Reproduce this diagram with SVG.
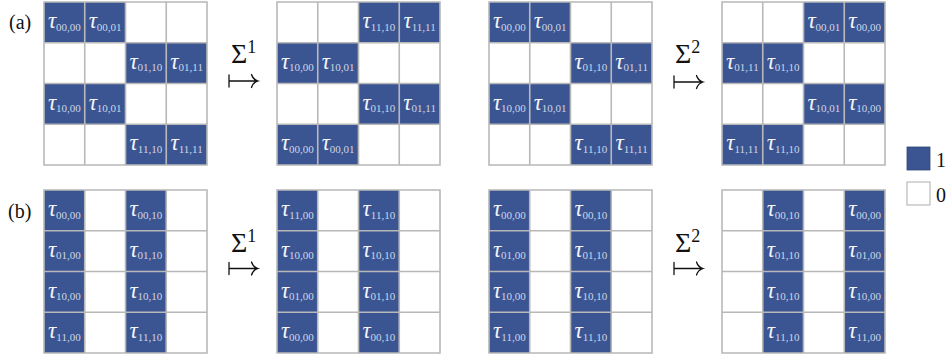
<svg xmlns="http://www.w3.org/2000/svg" width="952" height="358" viewBox="0 0 952 358" font-family="Liberation Serif">
<style>
.bg{fill:#ffffff}
.b{fill:#3b5593}
.g{fill:none;stroke:#b8b8b8;stroke-width:1.6}
.l{text-anchor:middle}
.t{font-style:italic;font-size:23px;fill:#f3f4f9}
.s{font-size:11px;fill:#d0d5e6}
.m{fill:#111}
.sig{font-size:28px}
.sup{font-size:18px}
.arr{fill:none;stroke:#111;stroke-width:1.3;stroke-linecap:round}
.lab{font-size:20px;fill:#111}
</style>
<defs>
<path id="grid" class="g" d="M0 0H163V163H0Z M40.75 0V163 M81.5 0V163 M122.25 0V163 M0 40.75H163 M0 81.5H163 M0 122.25H163"/>
<rect id="bgr" class="bg" x="0" y="0" width="163" height="163"/>
<g id="ga">
<rect class="b" x="0" y="0" width="40.75" height="40.75"/><rect class="b" x="40.75" y="0" width="40.75" height="40.75"/>
<rect class="b" x="81.5" y="40.75" width="40.75" height="40.75"/><rect class="b" x="122.25" y="40.75" width="40.75" height="40.75"/>
<rect class="b" x="0" y="81.5" width="40.75" height="40.75"/><rect class="b" x="40.75" y="81.5" width="40.75" height="40.75"/>
<rect class="b" x="81.5" y="122.25" width="40.75" height="40.75"/><rect class="b" x="122.25" y="122.25" width="40.75" height="40.75"/>
</g>
<g id="gb">
<rect class="b" x="81.5" y="0" width="40.75" height="40.75"/><rect class="b" x="122.25" y="0" width="40.75" height="40.75"/>
<rect class="b" x="0" y="40.75" width="40.75" height="40.75"/><rect class="b" x="40.75" y="40.75" width="40.75" height="40.75"/>
<rect class="b" x="81.5" y="81.5" width="40.75" height="40.75"/><rect class="b" x="122.25" y="81.5" width="40.75" height="40.75"/>
<rect class="b" x="0" y="122.25" width="40.75" height="40.75"/><rect class="b" x="40.75" y="122.25" width="40.75" height="40.75"/>
</g>
<path id="mt" class="arr" d="M0 -6V6 M0 0H28 M22.5 -6.5Q24 -1.5 29 0Q24 1.5 22.5 6.5"/>
</defs>

<text class="lab" x="9" y="29" font-family="Liberation Serif">(a)</text>
<text class="lab" x="8" y="218" font-family="Liberation Serif">(b)</text>

<g id="grid-a1" transform="translate(44,2)" font-family="Liberation Serif">
<use href="#bgr"/><use href="#ga"/>
<text class="l" x="20.375" y="26"><tspan class="t">τ</tspan><tspan class="s" dy="2.5">00,00</tspan></text>
<text class="l" x="61.125" y="26"><tspan class="t">τ</tspan><tspan class="s" dy="2.5">00,01</tspan></text>
<text class="l" x="101.875" y="66.75"><tspan class="t">τ</tspan><tspan class="s" dy="2.5">01,10</tspan></text>
<text class="l" x="142.625" y="66.75"><tspan class="t">τ</tspan><tspan class="s" dy="2.5">01,11</tspan></text>
<text class="l" x="20.375" y="107.5"><tspan class="t">τ</tspan><tspan class="s" dy="2.5">10,00</tspan></text>
<text class="l" x="61.125" y="107.5"><tspan class="t">τ</tspan><tspan class="s" dy="2.5">10,01</tspan></text>
<text class="l" x="101.875" y="148.25"><tspan class="t">τ</tspan><tspan class="s" dy="2.5">11,10</tspan></text>
<text class="l" x="142.625" y="148.25"><tspan class="t">τ</tspan><tspan class="s" dy="2.5">11,11</tspan></text>
<use href="#grid"/>
</g>

<g id="grid-a2" transform="translate(277,2)" font-family="Liberation Serif">
<use href="#bgr"/><use href="#gb"/>
<text class="l" x="101.875" y="26"><tspan class="t">τ</tspan><tspan class="s" dy="2.5">11,10</tspan></text>
<text class="l" x="142.625" y="26"><tspan class="t">τ</tspan><tspan class="s" dy="2.5">11,11</tspan></text>
<text class="l" x="20.375" y="66.75"><tspan class="t">τ</tspan><tspan class="s" dy="2.5">10,00</tspan></text>
<text class="l" x="61.125" y="66.75"><tspan class="t">τ</tspan><tspan class="s" dy="2.5">10,01</tspan></text>
<text class="l" x="101.875" y="107.5"><tspan class="t">τ</tspan><tspan class="s" dy="2.5">01,10</tspan></text>
<text class="l" x="142.625" y="107.5"><tspan class="t">τ</tspan><tspan class="s" dy="2.5">01,11</tspan></text>
<text class="l" x="20.375" y="148.25"><tspan class="t">τ</tspan><tspan class="s" dy="2.5">00,00</tspan></text>
<text class="l" x="61.125" y="148.25"><tspan class="t">τ</tspan><tspan class="s" dy="2.5">00,01</tspan></text>
<use href="#grid"/>
</g>

<g id="grid-a3" transform="translate(489,2)" font-family="Liberation Serif">
<use href="#bgr"/><use href="#ga"/>
<text class="l" x="20.375" y="26"><tspan class="t">τ</tspan><tspan class="s" dy="2.5">00,00</tspan></text>
<text class="l" x="61.125" y="26"><tspan class="t">τ</tspan><tspan class="s" dy="2.5">00,01</tspan></text>
<text class="l" x="101.875" y="66.75"><tspan class="t">τ</tspan><tspan class="s" dy="2.5">01,10</tspan></text>
<text class="l" x="142.625" y="66.75"><tspan class="t">τ</tspan><tspan class="s" dy="2.5">01,11</tspan></text>
<text class="l" x="20.375" y="107.5"><tspan class="t">τ</tspan><tspan class="s" dy="2.5">10,00</tspan></text>
<text class="l" x="61.125" y="107.5"><tspan class="t">τ</tspan><tspan class="s" dy="2.5">10,01</tspan></text>
<text class="l" x="101.875" y="148.25"><tspan class="t">τ</tspan><tspan class="s" dy="2.5">11,10</tspan></text>
<text class="l" x="142.625" y="148.25"><tspan class="t">τ</tspan><tspan class="s" dy="2.5">11,11</tspan></text>
<use href="#grid"/>
</g>

<g id="grid-a4" transform="translate(722,2)" font-family="Liberation Serif">
<use href="#bgr"/><use href="#gb"/>
<text class="l" x="101.875" y="26"><tspan class="t">τ</tspan><tspan class="s" dy="2.5">00,01</tspan></text>
<text class="l" x="142.625" y="26"><tspan class="t">τ</tspan><tspan class="s" dy="2.5">00,00</tspan></text>
<text class="l" x="20.375" y="66.75"><tspan class="t">τ</tspan><tspan class="s" dy="2.5">01,11</tspan></text>
<text class="l" x="61.125" y="66.75"><tspan class="t">τ</tspan><tspan class="s" dy="2.5">01,10</tspan></text>
<text class="l" x="101.875" y="107.5"><tspan class="t">τ</tspan><tspan class="s" dy="2.5">10,01</tspan></text>
<text class="l" x="142.625" y="107.5"><tspan class="t">τ</tspan><tspan class="s" dy="2.5">10,00</tspan></text>
<text class="l" x="20.375" y="148.25"><tspan class="t">τ</tspan><tspan class="s" dy="2.5">11,11</tspan></text>
<text class="l" x="61.125" y="148.25"><tspan class="t">τ</tspan><tspan class="s" dy="2.5">11,10</tspan></text>
<use href="#grid"/>
</g>

<g id="grid-b1" transform="translate(44,190)" font-family="Liberation Serif">
<use href="#bgr"/>
<rect class="b" x="0" y="0" width="40.75" height="163"/><rect class="b" x="81.5" y="0" width="40.75" height="163"/>
<text class="l" x="20.375" y="26"><tspan class="t">τ</tspan><tspan class="s" dy="2.5">00,00</tspan></text>
<text class="l" x="20.375" y="66.75"><tspan class="t">τ</tspan><tspan class="s" dy="2.5">01,00</tspan></text>
<text class="l" x="20.375" y="107.5"><tspan class="t">τ</tspan><tspan class="s" dy="2.5">10,00</tspan></text>
<text class="l" x="20.375" y="148.25"><tspan class="t">τ</tspan><tspan class="s" dy="2.5">11,00</tspan></text>
<text class="l" x="101.875" y="26"><tspan class="t">τ</tspan><tspan class="s" dy="2.5">00,10</tspan></text>
<text class="l" x="101.875" y="66.75"><tspan class="t">τ</tspan><tspan class="s" dy="2.5">01,10</tspan></text>
<text class="l" x="101.875" y="107.5"><tspan class="t">τ</tspan><tspan class="s" dy="2.5">10,10</tspan></text>
<text class="l" x="101.875" y="148.25"><tspan class="t">τ</tspan><tspan class="s" dy="2.5">11,10</tspan></text>
<use href="#grid"/>
</g>

<g id="grid-b2" transform="translate(277,190)" font-family="Liberation Serif">
<use href="#bgr"/>
<rect class="b" x="0" y="0" width="40.75" height="163"/><rect class="b" x="81.5" y="0" width="40.75" height="163"/>
<text class="l" x="20.375" y="26"><tspan class="t">τ</tspan><tspan class="s" dy="2.5">11,00</tspan></text>
<text class="l" x="20.375" y="66.75"><tspan class="t">τ</tspan><tspan class="s" dy="2.5">10,00</tspan></text>
<text class="l" x="20.375" y="107.5"><tspan class="t">τ</tspan><tspan class="s" dy="2.5">01,00</tspan></text>
<text class="l" x="20.375" y="148.25"><tspan class="t">τ</tspan><tspan class="s" dy="2.5">00,00</tspan></text>
<text class="l" x="101.875" y="26"><tspan class="t">τ</tspan><tspan class="s" dy="2.5">11,10</tspan></text>
<text class="l" x="101.875" y="66.75"><tspan class="t">τ</tspan><tspan class="s" dy="2.5">10,10</tspan></text>
<text class="l" x="101.875" y="107.5"><tspan class="t">τ</tspan><tspan class="s" dy="2.5">01,10</tspan></text>
<text class="l" x="101.875" y="148.25"><tspan class="t">τ</tspan><tspan class="s" dy="2.5">00,10</tspan></text>
<use href="#grid"/>
</g>

<g id="grid-b3" transform="translate(489,190)" font-family="Liberation Serif">
<use href="#bgr"/>
<rect class="b" x="0" y="0" width="40.75" height="163"/><rect class="b" x="81.5" y="0" width="40.75" height="163"/>
<text class="l" x="20.375" y="26"><tspan class="t">τ</tspan><tspan class="s" dy="2.5">00,00</tspan></text>
<text class="l" x="20.375" y="66.75"><tspan class="t">τ</tspan><tspan class="s" dy="2.5">01,00</tspan></text>
<text class="l" x="20.375" y="107.5"><tspan class="t">τ</tspan><tspan class="s" dy="2.5">10,00</tspan></text>
<text class="l" x="20.375" y="148.25"><tspan class="t">τ</tspan><tspan class="s" dy="2.5">11,00</tspan></text>
<text class="l" x="101.875" y="26"><tspan class="t">τ</tspan><tspan class="s" dy="2.5">00,10</tspan></text>
<text class="l" x="101.875" y="66.75"><tspan class="t">τ</tspan><tspan class="s" dy="2.5">01,10</tspan></text>
<text class="l" x="101.875" y="107.5"><tspan class="t">τ</tspan><tspan class="s" dy="2.5">10,10</tspan></text>
<text class="l" x="101.875" y="148.25"><tspan class="t">τ</tspan><tspan class="s" dy="2.5">11,10</tspan></text>
<use href="#grid"/>
</g>

<g id="grid-b4" transform="translate(722,190)" font-family="Liberation Serif">
<use href="#bgr"/>
<rect class="b" x="40.75" y="0" width="40.75" height="163"/><rect class="b" x="122.25" y="0" width="40.75" height="163"/>
<text class="l" x="61.125" y="26"><tspan class="t">τ</tspan><tspan class="s" dy="2.5">00,10</tspan></text>
<text class="l" x="61.125" y="66.75"><tspan class="t">τ</tspan><tspan class="s" dy="2.5">01,10</tspan></text>
<text class="l" x="61.125" y="107.5"><tspan class="t">τ</tspan><tspan class="s" dy="2.5">10,10</tspan></text>
<text class="l" x="61.125" y="148.25"><tspan class="t">τ</tspan><tspan class="s" dy="2.5">11,10</tspan></text>
<text class="l" x="142.625" y="26"><tspan class="t">τ</tspan><tspan class="s" dy="2.5">00,00</tspan></text>
<text class="l" x="142.625" y="66.75"><tspan class="t">τ</tspan><tspan class="s" dy="2.5">01,00</tspan></text>
<text class="l" x="142.625" y="107.5"><tspan class="t">τ</tspan><tspan class="s" dy="2.5">10,00</tspan></text>
<text class="l" x="142.625" y="148.25"><tspan class="t">τ</tspan><tspan class="s" dy="2.5">11,00</tspan></text>
<use href="#grid"/>
</g>

<g id="connectors" font-family="Liberation Serif">
<g id="map-a1">
<text class="m sig" x="231" y="63">Σ<tspan class="sup" dy="-10">1</tspan></text>
<use href="#mt" transform="translate(229,81)"/>
</g>
<g id="map-a2">
<text class="m sig" x="675" y="63">Σ<tspan class="sup" dy="-10">2</tspan></text>
<use href="#mt" transform="translate(674,82)"/>
</g>
<g id="map-b1">
<text class="m sig" x="231" y="252">Σ<tspan class="sup" dy="-10">1</tspan></text>
<use href="#mt" transform="translate(229,268.5)"/>
</g>
<g id="map-b2">
<text class="m sig" x="675" y="252">Σ<tspan class="sup" dy="-10">2</tspan></text>
<use href="#mt" transform="translate(674,268.5)"/>
</g>
</g>

<g id="legend" font-family="Liberation Serif">
<rect x="907" y="147" width="23" height="23" fill="#3b5593" stroke="#2f4478" stroke-width="0.8"/>
<text class="lab" x="936" y="167">1</text>
<rect x="907" y="182" width="23" height="23" fill="#fff" stroke="#bbbbbb" stroke-width="1.2"/>
<text class="lab" x="936" y="202">0</text>
</g>
</svg>
